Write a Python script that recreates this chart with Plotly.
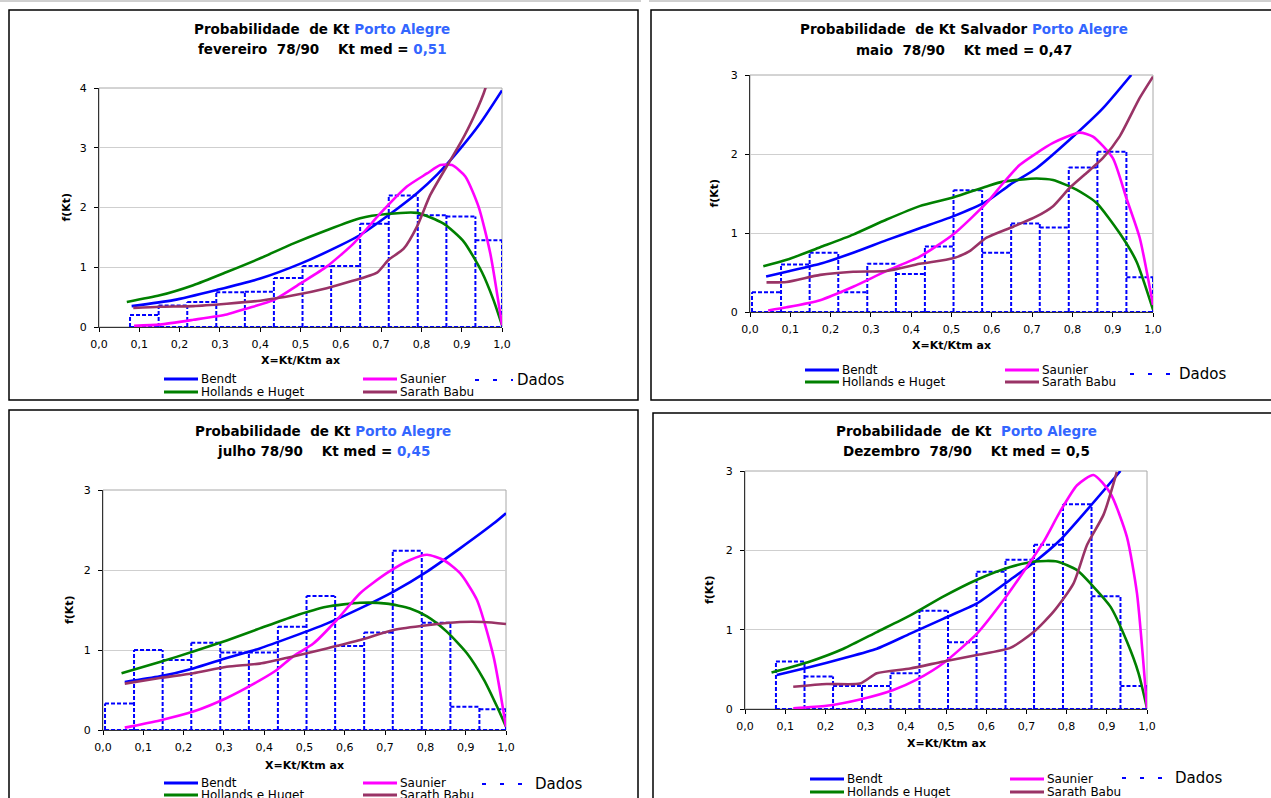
import plotly.graph_objects as go

W, H = 1271, 798
FONT = "DejaVu Sans, Verdana, sans-serif"
BLUE_TXT = "#3366FF"

# ---------------- data ----------------
x_ticks = [0.0, 0.1, 0.2, 0.3, 0.4, 0.5, 0.6, 0.7, 0.8, 0.9, 1.0]
x_tick_labels = ["0,0", "0,1", "0,2", "0,3", "0,4", "0,5", "0,6", "0,7", "0,8", "0,9", "1,0"]

bin_edges = [0.005, 0.077, 0.148, 0.219, 0.291, 0.362, 0.434, 0.505,
             0.576, 0.648, 0.719, 0.791, 0.862, 0.934, 1.0]

series_names = ["Bendt", "Hollands e Huget", "Saunier", "Sarath Babu", "Dados"]
series_colors = ["#0000FF", "#008000", "#FF00FF", "#993366", "#0000FF"]

# Panel 1 - fevereiro
p1_dados = [None, 0.20, 0.36, 0.42, 0.58, 0.59, 0.82, 1.02, 1.02, 1.73, 2.20, 1.87, 1.85, 1.45]
p1_bendt_x = [0.081, 0.185, 0.292, 0.40, 0.50, 0.60, 0.648, 0.718, 0.789, 0.839, 0.897, 0.946, 1.0]
p1_bendt_y = [0.35, 0.45, 0.62, 0.81, 1.06, 1.37, 1.54, 1.87, 2.24, 2.55, 2.99, 3.41, 3.96]
p1_holl_x = [0.069, 0.151, 0.234, 0.317, 0.40, 0.483, 0.565, 0.648, 0.714, 0.789, 0.855, 0.905, 0.95, 0.979, 1.0]
p1_holl_y = [0.42, 0.53, 0.70, 0.92, 1.15, 1.40, 1.62, 1.82, 1.89, 1.91, 1.73, 1.43, 0.92, 0.45, 0.03]
p1_saun_x = [0.087, 0.151, 0.234, 0.317, 0.367, 0.433, 0.50, 0.565, 0.632, 0.698, 0.764, 0.814, 0.847, 0.876, 0.909, 0.942, 0.971, 1.0]
p1_saun_y = [0.02, 0.04, 0.12, 0.21, 0.31, 0.45, 0.73, 1.01, 1.40, 1.90, 2.35, 2.57, 2.71, 2.71, 2.52, 2.01, 1.23, 0.03]
p1_sara_x = [0.085, 0.151, 0.234, 0.317, 0.40, 0.483, 0.565, 0.623, 0.69, 0.718, 0.756, 0.789, 0.822, 0.863, 0.897, 0.93, 0.959, 0.965]
p1_sara_y = [0.32, 0.34, 0.35, 0.39, 0.44, 0.53, 0.65, 0.76, 0.91, 1.12, 1.31, 1.68, 2.21, 2.69, 3.08, 3.52, 4.0, 4.2]

# Panel 2 - maio
p2_dados = [0.25, 0.60, 0.75, 0.25, 0.61, 0.48, 0.83, 1.54, 0.75, 1.12, 1.07, 1.83, 2.03, 0.44]
p2_bendt_x = [0.04, 0.091, 0.174, 0.256, 0.339, 0.421, 0.504, 0.587, 0.645, 0.711, 0.793, 0.876, 0.946]
p2_bendt_y = [0.45, 0.51, 0.61, 0.75, 0.91, 1.06, 1.21, 1.40, 1.61, 1.82, 2.18, 2.58, 3.0]
p2_holl_x = [0.033, 0.091, 0.174, 0.256, 0.339, 0.421, 0.504, 0.587, 0.628, 0.711, 0.752, 0.81, 0.86, 0.917, 0.959, 1.0]
p2_holl_y = [0.58, 0.66, 0.82, 0.98, 1.17, 1.34, 1.45, 1.59, 1.65, 1.69, 1.67, 1.55, 1.38, 1.0, 0.64, 0.03]
p2_saun_x = [0.045, 0.091, 0.174, 0.256, 0.339, 0.421, 0.504, 0.587, 0.628, 0.669, 0.752, 0.818, 0.851, 0.90, 0.934, 0.967, 1.0]
p2_saun_y = [0.02, 0.06, 0.15, 0.32, 0.52, 0.70, 0.98, 1.38, 1.63, 1.86, 2.14, 2.27, 2.22, 1.95, 1.44, 0.94, 0.09]
p2_sara_x = [0.041, 0.091, 0.174, 0.256, 0.339, 0.421, 0.504, 0.545, 0.587, 0.653, 0.711, 0.752, 0.793, 0.835, 0.876, 0.917, 0.967, 1.0]
p2_sara_y = [0.375, 0.38, 0.47, 0.51, 0.52, 0.61, 0.68, 0.77, 0.94, 1.08, 1.21, 1.34, 1.57, 1.76, 1.95, 2.22, 2.71, 2.98]

# Panel 3 - julho
p3_dados = [0.33, 1.0, 0.875, 1.09, 0.97, 0.97, 1.29, 1.675, 1.05, 1.22, 2.24, 1.34, 0.29, 0.26]
p3_bendt_x = [0.054, 0.141, 0.224, 0.307, 0.389, 0.472, 0.555, 0.638, 0.721, 0.804, 0.886, 0.969, 1.0]
p3_bendt_y = [0.60, 0.67, 0.77, 0.90, 1.02, 1.17, 1.33, 1.52, 1.73, 1.98, 2.27, 2.58, 2.71]
p3_holl_x = [0.046, 0.141, 0.224, 0.307, 0.389, 0.472, 0.555, 0.638, 0.704, 0.762, 0.804, 0.853, 0.903, 0.945, 0.978, 1.0]
p3_holl_y = [0.71, 0.85, 0.98, 1.12, 1.27, 1.42, 1.54, 1.59, 1.58, 1.52, 1.42, 1.23, 0.96, 0.63, 0.29, 0.04]
p3_saun_x = [0.054, 0.141, 0.224, 0.307, 0.389, 0.431, 0.472, 0.522, 0.58, 0.638, 0.704, 0.762, 0.804, 0.845, 0.886, 0.928, 0.969, 1.0]
p3_saun_y = [0.03, 0.12, 0.23, 0.40, 0.62, 0.75, 0.92, 1.08, 1.375, 1.71, 1.96, 2.125, 2.19, 2.125, 1.96, 1.625, 0.92, 0.04]
p3_sara_x = [0.054, 0.141, 0.224, 0.307, 0.389, 0.472, 0.555, 0.638, 0.721, 0.804, 0.886, 0.945, 1.0]
p3_sara_y = [0.58, 0.65, 0.71, 0.79, 0.83, 0.92, 1.02, 1.125, 1.25, 1.31, 1.35, 1.35, 1.325]

# Panel 4 - Dezembro
p4_dados = [None, 0.60, 0.41, 0.29, 0.29, 0.45, 1.24, 0.84, 1.73, 1.88, 2.07, 2.58, 1.42, 0.29]
p4_bendt_x = [0.079, 0.162, 0.245, 0.328, 0.411, 0.494, 0.577, 0.66, 0.722, 0.784, 0.851, 0.934]
p4_bendt_y = [0.43, 0.53, 0.64, 0.76, 0.95, 1.14, 1.33, 1.63, 1.86, 2.13, 2.51, 3.0]
p4_holl_x = [0.066, 0.162, 0.245, 0.328, 0.411, 0.494, 0.577, 0.66, 0.722, 0.776, 0.826, 0.867, 0.909, 0.95, 0.979, 1.0]
p4_holl_y = [0.46, 0.60, 0.76, 0.97, 1.18, 1.42, 1.63, 1.79, 1.86, 1.86, 1.75, 1.54, 1.29, 0.85, 0.45, 0.01]
p4_saun_x = [0.12, 0.203, 0.286, 0.369, 0.427, 0.494, 0.577, 0.643, 0.701, 0.743, 0.784, 0.826, 0.867, 0.909, 0.95, 0.975, 1.0]
p4_saun_y = [0.01, 0.04, 0.12, 0.24, 0.37, 0.58, 0.95, 1.37, 1.79, 2.11, 2.49, 2.82, 2.95, 2.72, 2.17, 1.46, 0.01]
p4_sara_x = [0.12, 0.203, 0.286, 0.328, 0.411, 0.494, 0.577, 0.66, 0.718, 0.768, 0.817, 0.851, 0.892, 0.925]
p4_sara_y = [0.28, 0.315, 0.32, 0.45, 0.51, 0.60, 0.68, 0.77, 0.97, 1.23, 1.58, 2.07, 2.45, 2.99]

# ---------------- layout geometry (pixels) ----------------
panels = [
    dict(plot=(99, 502, 88, 327), ymax=4, box=(9, 638, 10, 400),
         dados=p1_dados,
         curves=[(p1_bendt_x, p1_bendt_y), (p1_holl_x, p1_holl_y), (p1_saun_x, p1_saun_y), (p1_sara_x, p1_sara_y)],
         title1="Probabilidade  de Kt <span style='color:%s'>Porto Alegre</span>" % BLUE_TXT,
         title2="fevereiro  78/90    Kt med = <span style='color:%s'>0,51</span>" % BLUE_TXT,
         tcx=322, t1y=29, t2y=49, ytx=66, xty=360,
         leg=dict(c1=164, c2=363, r1=379, r2=392, dx0=475, dx1=513, dy=380, dtx=515)),
    dict(plot=(750, 1153, 75, 312), ymax=3, box=(651, 1273, 10, 400),
         dados=p2_dados,
         curves=[(p2_bendt_x, p2_bendt_y), (p2_holl_x, p2_holl_y), (p2_saun_x, p2_saun_y), (p2_sara_x, p2_sara_y)],
         title1="Probabilidade  de Kt Salvador <span style='color:%s'>Porto Alegre</span>" % BLUE_TXT,
         title2="maio  78/90    Kt med = 0,47",
         tcx=964, t1y=29, t2y=50, ytx=714, xty=346,
         leg=dict(c1=805, c2=1005, r1=370, r2=382, dx0=1130, dx1=1170, dy=374, dtx=1177)),
    dict(plot=(103, 506, 490, 730), ymax=3, box=(9, 638, 410, 800),
         dados=p3_dados,
         curves=[(p3_bendt_x, p3_bendt_y), (p3_holl_x, p3_holl_y), (p3_saun_x, p3_saun_y), (p3_sara_x, p3_sara_y)],
         title1="Probabilidade  de Kt <span style='color:%s'>Porto Alegre</span>" % BLUE_TXT,
         title2="julho 78/90    Kt med = <span style='color:%s'>0,45</span>" % BLUE_TXT,
         tcx=323, t1y=431, t2y=451, ytx=69, xty=765,
         leg=dict(c1=164, c2=363, r1=783, r2=795, dx0=482, dx1=522, dy=784, dtx=533)),
    dict(plot=(745, 1147, 471, 709), ymax=3, box=(653, 1273, 413, 800),
         dados=p4_dados,
         curves=[(p4_bendt_x, p4_bendt_y), (p4_holl_x, p4_holl_y), (p4_saun_x, p4_saun_y), (p4_sara_x, p4_sara_y)],
         title1="Probabilidade  de Kt  <span style='color:%s'>Porto Alegre</span>" % BLUE_TXT,
         title2="Dezembro  78/90    Kt med = 0,5",
         tcx=966, t1y=431, t2y=451, ytx=709, xty=743,
         leg=dict(c1=810, c2=1010, r1=779, r2=792, dx0=1122, dx1=1165, dy=778, dtx=1173)),
]


def px(x):
    return x / W


def py(y):
    return 1 - y / H


fig = go.Figure()
shapes = []
annotations = []

for i, p in enumerate(panels):
    n = "" if i == 0 else str(i + 1)
    xa, ya = "x" + n, "y" + n
    x0, x1, y0, y1 = p["plot"]

    # histogram outlines: each edge drawn once (dashed, Excel style)
    hs = p["dados"]
    hx, hy = [], []
    present = [k for k, h in enumerate(hs) if h is not None]
    for e in range(len(bin_edges)):
        left = hs[e - 1] if 0 < e <= len(hs) else None
        right = hs[e] if e < len(hs) else None
        vals = [v for v in (left, right) if v is not None]
        if not vals:
            continue
        hx += [bin_edges[e], bin_edges[e], None]
        hy += [0, max(vals), None]
    for k in present:
        hx += [bin_edges[k], bin_edges[k + 1], None]
        hy += [hs[k], hs[k], None]
    hx += [bin_edges[present[0]], bin_edges[present[-1] + 1], None]
    hy += [0, 0, None]
    fig.add_trace(go.Scatter(x=hx, y=hy, mode="lines", name="Dados", showlegend=False,
                             line=dict(color=series_colors[4], width=2, dash="4px,2px"),
                             xaxis=xa, yaxis=ya, hoverinfo="skip"))
    for j, (cx, cy) in enumerate(p["curves"]):
        fig.add_trace(go.Scatter(x=cx, y=cy, mode="lines", name=series_names[j], showlegend=False,
                                 line=dict(color=series_colors[j], width=2.6,
                                           shape="spline", smoothing=0.6),
                                 xaxis=xa, yaxis=ya))

    fig.update_layout(**{
        "xaxis" + n: dict(domain=[px(x0), px(x1)], anchor=ya, range=[0, 1], automargin=False,
                          tickvals=x_ticks, ticktext=x_tick_labels, ticks="outside",
                          ticklen=4, tickcolor="black", showline=True, linecolor="#333333",
                          linewidth=1, showgrid=False, zeroline=False, ticklabelstandoff=3,
                          tickfont=dict(family=FONT, size=11, color="black")),
        "yaxis" + n: dict(domain=[py(y1), py(y0)], anchor=xa, range=[0, p["ymax"]], automargin=False,
                          dtick=1, ticks="outside", ticklen=4, tickcolor="black",
                          showline=True, linecolor="#333333", linewidth=1, ticklabelstandoff=5,
                          showgrid=True, gridcolor="#CFCFCF", gridwidth=1, zeroline=False,
                          tickfont=dict(family=FONT, size=11, color="black")),
    })

    # plot-area border (gray)
    shapes.append(dict(type="rect", xref=xa + " domain", yref=ya + " domain",
                       x0=0, x1=1, y0=0, y1=1, line=dict(color="#A8A8A8", width=1),
                       layer="below"))
    # outer chart box
    bx0, bx1, by0, by1 = p["box"]
    shapes.append(dict(type="rect", xref="paper", yref="paper",
                       x0=px(bx0), x1=px(bx1), y0=py(by1), y1=py(by0),
                       line=dict(color="black", width=1.5)))

    # titles
    for txt, ty in ((p["title1"], p["t1y"]), (p["title2"], p["t2y"])):
        annotations.append(dict(x=px(p["tcx"]), y=py(ty), xref="paper", yref="paper",
                                text="<b>" + txt + "</b>", showarrow=False,
                                xanchor="center", yanchor="middle",
                                font=dict(family=FONT, size=13.5, color="black")))
    # axis titles
    annotations.append(dict(x=px(p["ytx"]), y=py((y0 + y1) / 2), xref="paper", yref="paper",
                            text="<b>f(Kt)</b>", showarrow=False, textangle=-90,
                            xanchor="center", yanchor="middle",
                            font=dict(family=FONT, size=11, color="black")))
    annotations.append(dict(x=px((x0 + x1) / 2), y=py(p["xty"]), xref="paper", yref="paper",
                            text="<b>X=Kt/Ktm ax</b>", showarrow=False,
                            xanchor="center", yanchor="middle",
                            font=dict(family=FONT, size=11, color="black")))

    # legend (manual, Excel style)
    L = p["leg"]
    entries = [(L["c1"], L["r1"], 0), (L["c1"], L["r2"], 1), (L["c2"], L["r1"], 2), (L["c2"], L["r2"], 3)]
    for cx, ry, j in entries:
        shapes.append(dict(type="line", xref="paper", yref="paper",
                           x0=px(cx), x1=px(cx + 34), y0=py(ry), y1=py(ry),
                           line=dict(color=series_colors[j], width=3)))
        annotations.append(dict(x=px(cx + 35), y=py(ry), xref="paper", yref="paper",
                                text=series_names[j], showarrow=False,
                                xanchor="left", yanchor="middle",
                                font=dict(family=FONT, size=12, color="black")))
    shapes.append(dict(type="line", xref="paper", yref="paper",
                       x0=px(L["dx0"]), x1=px(L["dx1"]), y0=py(L["dy"]), y1=py(L["dy"]),
                       line=dict(color=series_colors[4], width=2, dash="4px,14px")))
    annotations.append(dict(x=px(L["dtx"]), y=py(L["dy"]), xref="paper", yref="paper",
                            text=series_names[4], showarrow=False,
                            xanchor="left", yanchor="middle",
                            font=dict(family=FONT, size=15, color="black")))

# thin gray line at the very top
shapes.append(dict(type="line", xref="paper", yref="paper", x0=0, x1=px(641), y0=py(1), y1=py(1),
                   line=dict(color="#A0A0A0", width=1)))
shapes.append(dict(type="line", xref="paper", yref="paper", x0=px(649), x1=1, y0=py(1), y1=py(1),
                   line=dict(color="#A0A0A0", width=1)))

fig.update_layout(width=W, height=H, margin=dict(l=0, r=0, t=0, b=0, autoexpand=False),
                  paper_bgcolor="white", plot_bgcolor="white",
                  showlegend=False, shapes=shapes, annotations=annotations,
                  font=dict(family=FONT, color="black"))

fig.write_html("out.html", config={"responsive": False},
               post_script="document.body.style.margin='0px';document.body.style.padding='0px';")
